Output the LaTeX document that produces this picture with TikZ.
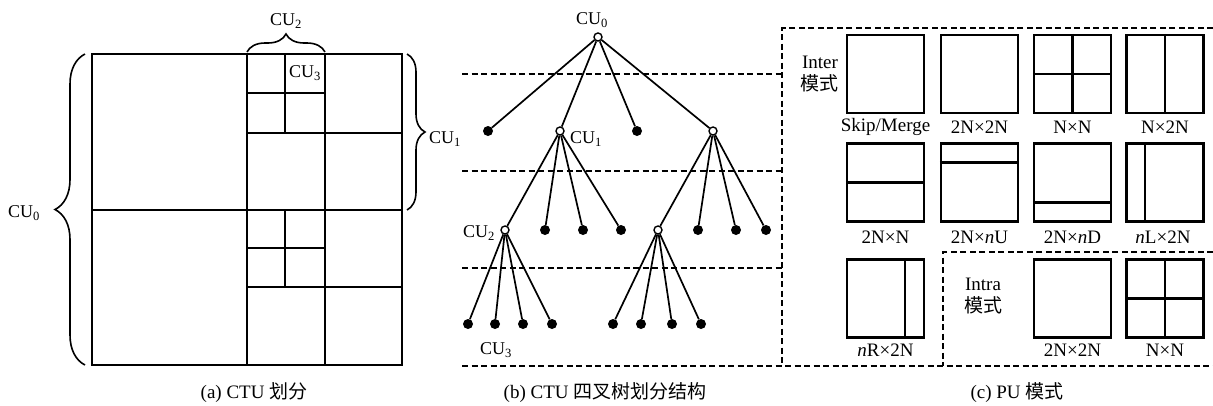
\documentclass[tikz,border=0pt]{standalone}
\usepackage{fontspec}
\setmainfont{Liberation Serif}
\newfontfamily\cjk{Noto Sans CJK SC}
\usetikzlibrary{decorations.pathreplacing,calc}
\begin{document}
\begin{tikzpicture}[x=1pt,y=-1pt,
  solid line/.style={line width=2.1pt},
  dash line/.style={line width=1.8pt, dash pattern=on 6pt off 3.5pt},
  opennode/.style={circle,draw,fill=white,line width=1.4pt,inner sep=0pt,minimum size=8pt},
  leafnode/.style={circle,fill=black,inner sep=0pt,minimum size=10pt},
  treeedge/.style={line width=1.7pt},
  mybrace/.style={decorate,decoration={brace,amplitude=#1},line width=1.6pt},
  lbl/.style={font=\fontsize{19}{21}\selectfont,inner sep=0pt},
  cu/.style={font=\fontsize{18}{20}\selectfont,inner sep=0pt},
  captext/.style={font=\fontsize{19}{21}\selectfont,inner sep=0pt},
  pubox/.style={draw,line width=2.1pt,inner sep=0pt,minimum width=77pt,minimum height=78pt}
]
\useasboundingbox (0,0) rectangle (1213,405);

% ---------- (a) CTU partition ----------
\draw[solid line] (92,54) rectangle (402,365);
\draw[solid line] (92,210) -- (402,210);
\draw[solid line] (247,54) -- (247,365);
\draw[solid line] (325,54) -- (325,365);
\draw[solid line] (247,133) -- (402,133);
\draw[solid line] (247,287) -- (402,287);
\draw[solid line] (285,54) -- (285,133);
\draw[solid line] (247,93) -- (325,93);
\draw[solid line] (285,210) -- (285,287);
\draw[solid line] (247,248) -- (325,248);

\draw[mybrace=30] (85,365) -- (85,54);
\draw[mybrace=18] (247,52) -- (325,52);
\draw[mybrace=18] (407,54) -- (407,210);

\node[cu] (cua0) at (24,213) {CU\textsubscript{0}};
\node[cu] (cua2) at (286,21) {CU\textsubscript{2}};
\node[cu] (cua1) at (445,139) {CU\textsubscript{1}};
\node[cu] (cua3) at (305,73) {CU\textsubscript{3}};

% ---------- (b) quadtree ----------
\foreach \yy in {74,171,268} \draw[dash line] (462,\yy) -- (782,\yy);

\node[opennode] (r) at (598,37) {};
\node[leafnode] (a1) at (488,131) {};
\node[opennode] (a2) at (560,131) {};
\node[leafnode] (a3) at (637,131) {};
\node[opennode] (a4) at (713,131) {};

\node[opennode] (b1) at (505,230) {};
\node[leafnode] (b2) at (545,230) {};
\node[leafnode] (b3) at (583,230) {};
\node[leafnode] (b4) at (621,230) {};
\node[opennode] (b5) at (658,230) {};
\node[leafnode] (b6) at (698,230) {};
\node[leafnode] (b7) at (736,230) {};
\node[leafnode] (b8) at (766,230) {};

\node[leafnode] (c1) at (468,324) {};
\node[leafnode] (c2) at (495,324) {};
\node[leafnode] (c3) at (523,324) {};
\node[leafnode] (c4) at (552,324) {};
\node[leafnode] (c5) at (613,324) {};
\node[leafnode] (c6) at (641,324) {};
\node[leafnode] (c7) at (672,324) {};
\node[leafnode] (c8) at (701,324) {};

\foreach \c in {a1,a2,a3,a4} \draw[treeedge] (r) -- (\c);
\foreach \c in {b1,b2,b3,b4} \draw[treeedge] (a2) -- (\c);
\foreach \c in {b5,b6,b7,b8} \draw[treeedge] (a4) -- (\c);
\foreach \c in {c1,c2,c3,c4} \draw[treeedge] (b1) -- (\c);
\foreach \c in {c5,c6,c7,c8} \draw[treeedge] (b5) -- (\c);

\node[cu] (cub0) at (592,20) {CU\textsubscript{0}};
\node[cu,anchor=west] (cub1) at (570,139) {CU\textsubscript{1}};
\node[cu] (cub2) at (479,233) {CU\textsubscript{2}};
\node[cu] (cub3) at (496,350) {CU\textsubscript{3}};

% ---------- (c) PU modes ----------
\draw[dash line] (462,366) -- (1213,366);
\draw[dash line] (1213,28) -- (782,28) -- (782,366);
\draw[dash line] (1213,252) -- (943,252) -- (943,366);

\node[lbl] (inter) at (820,62) {Inter};
\node[lbl] (intermode) at (819,83) {\cjk 模式};
\node[lbl] (intra) at (983,284) {Intra};
\node[lbl] (intramode) at (983,305) {\cjk 模式};

% row 1
\node[pubox] (p1) at (885.5,74) {};
\node[pubox] (p2) at (979.5,74) {};
\node[pubox] (p3) at (1072.5,74) {};
\node[pubox] (p4) at (1165,74) {};
\draw[solid line] (p3.north) -- (p3.south) (p3.west) -- (p3.east);
\draw[solid line] (p4.north) -- (p4.south);
\node[lbl] at (885.5,127) {Skip/Merge};
\node[lbl] at (979.5,127) {2N×2N};
\node[lbl] at (1072.5,127) {N×N};
\node[lbl] at (1165,127) {N×2N};

% row 2
\node[pubox] (p5) at (885.5,182.5) {};
\node[pubox] (p6) at (979.5,182.5) {};
\node[pubox] (p7) at (1072.5,182.5) {};
\node[pubox] (p8) at (1165,182.5) {};
\draw[solid line] (p5.west) -- (p5.east);
\draw[solid line] ($(p6.north west)!0.25!(p6.south west)$) -- ($(p6.north east)!0.25!(p6.south east)$);
\draw[solid line] ($(p7.north west)!0.75!(p7.south west)$) -- ($(p7.north east)!0.75!(p7.south east)$);
\draw[solid line] ($(p8.north west)!0.25!(p8.north east)$) -- ($(p8.south west)!0.25!(p8.south east)$);
\node[lbl] at (885.5,237) {2N×N};
\node[lbl] at (979.5,237) {2N×\textit{n}U};
\node[lbl] at (1072.5,237) {2N×\textit{n}D};
\node[lbl] at (1163,237) {\textit{n}L×2N};

% row 3
\node[pubox] (p9) at (885.5,298.5) {};
\node[pubox] (p10) at (1072.5,298.5) {};
\node[pubox] (p11) at (1165,298.5) {};
\draw[solid line] ($(p9.north west)!0.75!(p9.north east)$) -- ($(p9.south west)!0.75!(p9.south east)$);
\draw[solid line] (p11.north) -- (p11.south) (p11.west) -- (p11.east);
\node[lbl] at (885.5,350) {\textit{n}R×2N};
\node[lbl] at (1072.5,350) {2N×2N};
\node[lbl] at (1165,350) {N×N};

% ---------- captions ----------
\node[captext] (capa) at (254,393) {(a) CTU {\cjk 划分}};
\node[captext] (capb) at (605,393) {(b) CTU {\cjk 四叉树划分结构}};
\node[captext] (capc) at (1017,393) {(c) PU {\cjk 模式}};
\end{tikzpicture}
\end{document}
